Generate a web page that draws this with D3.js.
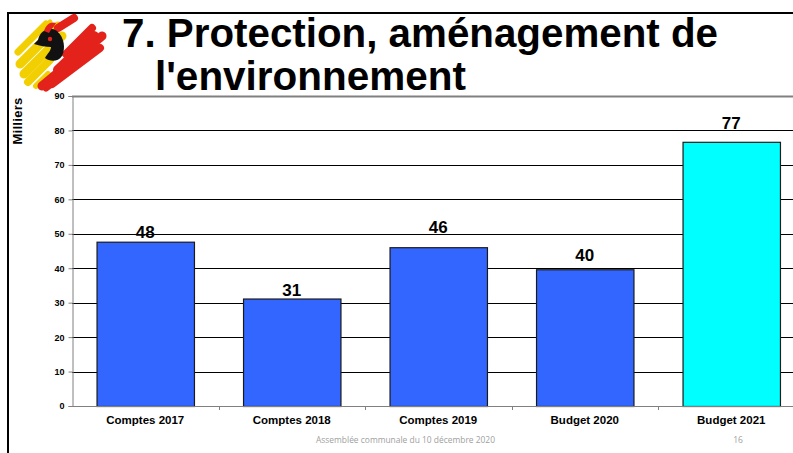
<!DOCTYPE html>
<html>
<head>
<meta charset="utf-8">
<script src="https://cdn.jsdelivr.net/npm/d3@7/dist/d3.min.js"></script>
<style>
  html, body { margin: 0; padding: 0; background: #fff; }
  svg { display: block; }
</style>
</head>
<body>
<svg id="chart" width="793" height="453"></svg>
<script>
// ---------- DATA ----------
const categories = ["Comptes 2017", "Comptes 2018", "Comptes 2019", "Budget 2020", "Budget 2021"];
const values = [47.7, 31.2, 46.1, 39.7, 76.7];           // en milliers
const valueLabels = ["48", "31", "46", "40", "77"];
const yTicks = [0, 10, 20, 30, 40, 50, 60, 70, 80, 90];
const titleLines = ["7. Protection, aménagement de", "l'environnement"];
const yAxisTitle = "Milliers";
const footerText = "Assemblée communale du 10 décembre 2020";
const pageNumber = "16";

// ---------- LAYOUT / STYLE ----------
const W = 793, H = 453;
const plot = { left: 72, right: 804.5, top: 96, bottom: 406 };
const barBlue = "#3366FF", barCyan = "#00FFFF";
const font = "'Liberation Sans', Arial, Helvetica, sans-serif";
const labelGap = [4, 3, 14, 8, 13];   // px between bar top and label baseline (as placed in the original)

const svg = d3.select("#chart");

// frame
svg.append("rect").attr("x", 7).attr("y", 12).attr("width", W - 7).attr("height", 2).attr("fill", "#000");
svg.append("rect").attr("x", 7).attr("y", 12).attr("width", 2).attr("height", H - 12).attr("fill", "#000");

// logo (brush-stroke emblem)
const logo = svg.append("g").attr("stroke-linecap", "round").attr("fill", "none");
[[18,52,46,24,7],[20,64,58,26,9],[24,74,62,36,9],[28,82,50,60,8],[36,86,48,74,6],[30,40,50,22,5]].forEach(s =>
  logo.append("line").attr("x1", s[0]).attr("y1", s[1]).attr("x2", s[2]).attr("y2", s[3])
      .attr("stroke", "#F2CF00").attr("stroke-width", s[4]));
[[58,28,74,18,8],[42,86,102,36,9],[52,84,100,48,8],[58,70,94,36,10],[66,54,92,28,8],[46,88,70,70,7]].forEach(s =>
  logo.append("line").attr("x1", s[0]).attr("y1", s[1]).attr("x2", s[2]).attr("y2", s[3])
      .attr("stroke", "#E3231B").attr("stroke-width", s[4]));
logo.append("path")
  .attr("d", "M38,40 C40,30 50,26 57,31 C64,37 66,48 62,56 C58,62 50,62 45,58 C47,54 51,51 51,47 C46,47 40,46 34,44 Z")
  .attr("fill", "#111").attr("stroke", "none");
logo.append("path").attr("d", "M44,31 C46,24 51,21 56,23 C54,27 51,29 49,33 Z").attr("fill", "#E3231B").attr("stroke", "none");
logo.append("circle").attr("cx", 50).attr("cy", 39).attr("r", 2.2).attr("fill", "#E3231B").attr("stroke", "none");

// scales
const x = d3.scaleBand().domain(categories).range([plot.left, plot.right])
  .paddingInner(0.335).paddingOuter(0.1675);
const y = d3.scaleLinear().domain([0, 90]).range([plot.bottom, plot.top]);

// gridlines
svg.append("g").selectAll("line").data(yTicks.filter(t => t > 0)).join("line")
  .attr("x1", plot.left).attr("x2", W)
  .attr("y1", d => Math.round(y(d)) + 0.5).attr("y2", d => Math.round(y(d)) + 0.5)
  .attr("stroke", d => d === 90 ? "#808080" : "#000")
  .attr("stroke-width", d => d === 90 ? 2 : 1);

// y axis
const yAxis = d3.axisLeft(y).tickValues(yTicks).tickSize(4).tickPadding(4).tickFormat(d3.format("d"));
const gy = svg.append("g").attr("transform", `translate(${plot.left + 0.5},0)`).call(yAxis);
gy.select(".domain").attr("stroke", "#808080");
gy.selectAll(".tick line").attr("stroke", "#808080");
gy.selectAll(".tick text").attr("font-family", font).attr("font-size", 9).attr("font-weight", "bold").attr("fill", "#000");

// bars
svg.append("g").selectAll("rect").data(values).join("rect")
  .attr("x", (d, i) => x(categories[i]) + 0.5)
  .attr("y", d => y(d) + 0.5)
  .attr("width", x.bandwidth())
  .attr("height", d => y(0) - y(d))
  .attr("fill", (d, i) => i === values.length - 1 ? barCyan : barBlue)
  .attr("stroke", "#1a1a1a").attr("stroke-width", 1.2);

// x axis baseline & category ticks
svg.append("line").attr("x1", plot.left).attr("x2", W).attr("y1", plot.bottom + 0.5).attr("y2", plot.bottom + 0.5)
  .attr("stroke", "#808080");
const step = x.step();
svg.append("g").selectAll("line").data(categories.slice(0, -1)).join("line")
  .attr("x1", d => Math.round(x(d) + x.bandwidth() + step * x.paddingInner() / 2) + 0.5)
  .attr("x2", d => Math.round(x(d) + x.bandwidth() + step * x.paddingInner() / 2) + 0.5)
  .attr("y1", plot.bottom).attr("y2", plot.bottom + 4).attr("stroke", "#808080");

// category labels
svg.append("g").selectAll("text").data(categories).join("text")
  .attr("x", d => x(d) + x.bandwidth() / 2).attr("y", 424)
  .attr("text-anchor", "middle").attr("font-family", font).attr("font-size", 11.5).attr("font-weight", "bold")
  .text(d => d);

// value labels
svg.append("g").selectAll("text").data(values).join("text")
  .attr("x", (d, i) => x(categories[i]) + x.bandwidth() / 2)
  .attr("y", (d, i) => y(d) - labelGap[i])
  .attr("text-anchor", "middle").attr("font-family", font).attr("font-size", 17).attr("font-weight", "bold")
  .text((d, i) => valueLabels[i]);

// y axis title
svg.append("text").attr("transform", "translate(22,121) rotate(-90)")
  .attr("text-anchor", "middle").attr("font-family", font).attr("font-size", 13).attr("font-weight", "bold")
  .attr("letter-spacing", 0.3)
  .text(yAxisTitle);

// title
const titleG = svg.append("g").attr("font-family", font).attr("font-weight", "bold").attr("font-size", 40).attr("fill", "#000");
titleG.append("text").attr("x", 122).attr("y", 47).attr("textLength", 596).attr("lengthAdjust", "spacingAndGlyphs").text(titleLines[0]);
titleG.append("text").attr("x", 155).attr("y", 90).attr("textLength", 311).attr("lengthAdjust", "spacingAndGlyphs").text(titleLines[1]);

// footer
svg.append("text").attr("x", 316).attr("y", 443).attr("font-family", "'Open Sans', 'Noto Sans', sans-serif")
  .attr("font-size", 8.5).attr("fill", "#a0a0a0").attr("textLength", 179).attr("lengthAdjust", "spacingAndGlyphs")
  .text(footerText);
svg.append("text").attr("x", 738).attr("y", 443).attr("text-anchor", "middle")
  .attr("font-family", "'Open Sans', 'Noto Sans', sans-serif").attr("font-size", 8.5).attr("fill", "#a0a0a0")
  .text(pageNumber);
</script>
</body>
</html>
